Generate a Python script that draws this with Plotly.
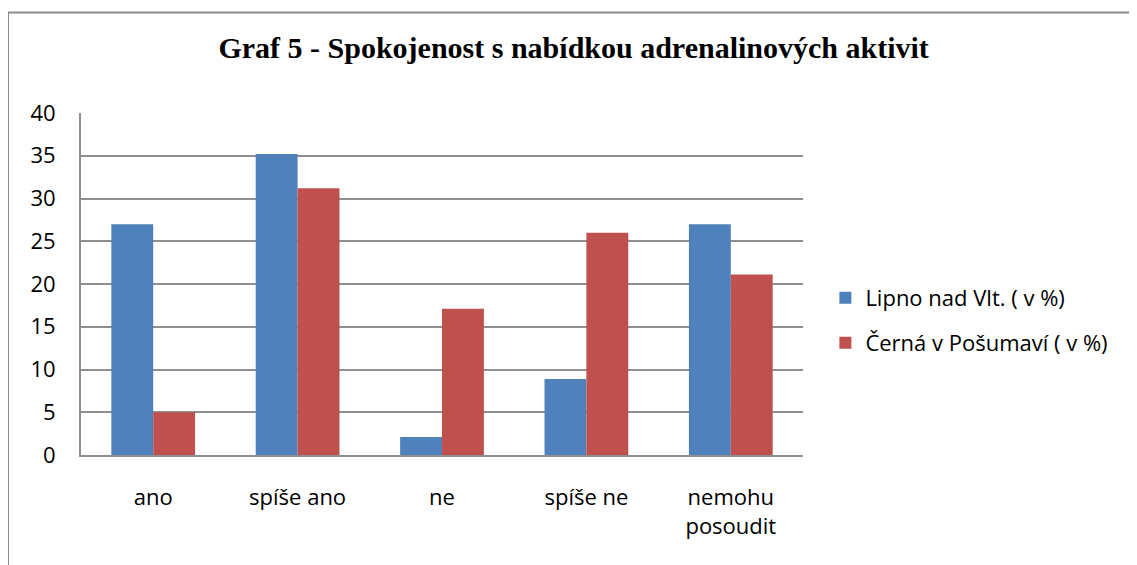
import plotly.graph_objects as go

# data
kategorie = ["ano", "spíše ano", "ne", "spíše ne", "nemohu<br>posoudit"]
lipno = [27, 35.2, 2.1, 8.9, 27]
cerna = [5, 31.2, 17.1, 26, 21.1]
nazvy = ["Lipno nad Vlt. ( v %)", "Černá v Pošumaví ( v %)"]
y_ticks = [0, 5, 10, 15, 20, 25, 30, 35, 40]

modra = "#4F81BD"
cervena = "#C0504D"
pismo = "Open Sans, Lato, sans-serif"

# page has an 8px body margin, so the figure is 8px smaller than the window
W, H = 1129, 557
L, R, T, B = 73, 334, 105, 110

fig = go.Figure()
fig.add_trace(go.Bar(x=kategorie, y=lipno, name=nazvy[0], marker_color=modra,
                     marker_line_width=0, legend="legend"))
fig.add_trace(go.Bar(x=kategorie, y=cerna, name=nazvy[1], marker_color=cervena,
                     marker_line_width=0, legend="legend2"))

fig.update_layout(
    width=W, height=H,
    margin=dict(l=L, r=R, t=T, b=B),
    paper_bgcolor="white", plot_bgcolor="white",
    barmode="group", bargap=0.42, bargroupgap=0,
    title=dict(text="<b>Graf 5 - Spokojenost s nabídkou adrenalinových aktivit</b>",
               x=0.501, xanchor="center", y=1 - 39 / H, yanchor="middle",
               font=dict(family="Liberation Serif, Times New Roman, serif", size=30, color="black")),
    font=dict(family=pismo, size=22, color="black"),
    legend=dict(x=1.031, y=(H - B - 290) / (H - T - B), xanchor="left", yanchor="middle",
                font=dict(size=22), bgcolor="rgba(0,0,0,0)"),
    legend2=dict(x=1.031, y=(H - B - 335) / (H - T - B), xanchor="left", yanchor="middle",
                 font=dict(size=22), bgcolor="rgba(0,0,0,0)"),
    showlegend=True,
)

fig.update_yaxes(range=[0, 40], tickvals=y_ticks, showgrid=True,
                 gridcolor="#8f8f8f", gridwidth=2,
                 showline=True, linecolor="#8f8f8f", linewidth=2,
                 ticks="", ticklabelstandoff=19, zeroline=False,
                 tickfont=dict(size=22))
fig.update_xaxes(showline=True, linecolor="#8f8f8f", linewidth=2,
                 ticks="", ticklabelstandoff=22, tickfont=dict(size=22))

# outer chart frame (only left and top edges visible in the crop)
fig.add_shape(type="rect", xref="paper", yref="paper",
              x0=-L / 722, x1=1.6, y0=-1.0, y1=(H - B - 4.5) / (H - T - B),
              line=dict(color="#8a8a8a", width=2), fillcolor="rgba(0,0,0,0)",
              layer="below")

fig.write_html("out.html")
